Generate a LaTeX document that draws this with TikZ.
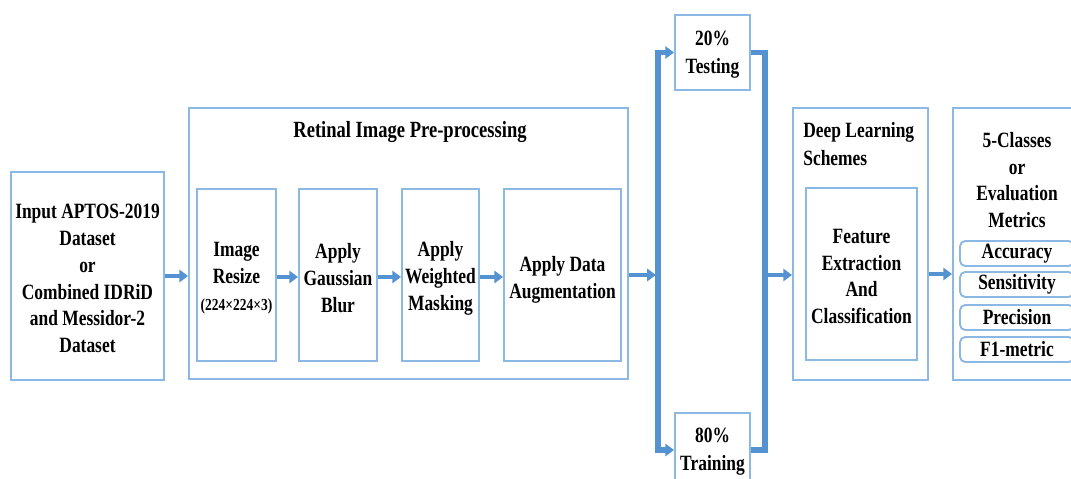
\documentclass[tikz,border=0pt]{standalone}
\usepackage{fontspec}
\setmainfont{Liberation Serif}[FakeStretch=0.8]
\usetikzlibrary{arrows.meta}
\definecolor{boxcol}{RGB}{140,185,228}
\definecolor{arrcol}{RGB}{84,146,210}
\tikzset{
  box/.style={draw=boxcol, line width=1.1pt, inner sep=0pt, align=center,
    font=\fontsize{12.4}{15.3}\selectfont\bfseries},
  mbox/.style={box, rounded corners=3pt, minimum width=2.28cm, minimum height=0.5cm},
  lbl/.style={inner sep=0pt, align=center, font=\fontsize{12.4}{15.3}\selectfont\bfseries},
  arr/.style={draw=arrcol, line width=2.4pt, -{Triangle[length=5pt,width=7pt]}},
  bar/.style={draw=arrcol, line width=2.9pt, line join=miter},
  bararr/.style={bar, -{Triangle[length=5pt,width=7pt]}}
}
\begin{document}
\begin{tikzpicture}[x=0.02cm, y=-0.02cm]
\clip (0,0) rectangle (1071,479);
\useasboundingbox (0,0) rectangle (1071,479);
% input
\node[box, minimum width=3.06cm, minimum height=4.16cm] (inp) at (87.5,276) {};
\node[lbl] (inpt) at (87.5,278.5) {Input APTOS-2019\\Dataset\\or\\Combined IDRiD\\and Messidor-2\\Dataset};
% preprocessing
\node[box, minimum width=8.78cm, minimum height=5.42cm] (pre) at (408.5,243.5) {};
\node[lbl, font=\fontsize{13.2}{15}\selectfont\bfseries] (pret) at (410,132) {Retinal Image Pre-processing};
\node[box, minimum width=1.58cm, minimum height=3.44cm] (rs) at (236.5,275) {};
\node[lbl] (rst) at (236.5,278) {Image\\Resize\\{\fontsize{9.6}{13}\selectfont(224×224×3)}};
\node[box, minimum width=1.56cm, minimum height=3.44cm] (gb) at (338,275) {};
\node[lbl] (gbt) at (338,278) {Apply\\Gaussian\\Blur};
\node[box, minimum width=1.54cm, minimum height=3.44cm] (wm) at (440.5,275) {};
\node[lbl] (wmt) at (440.5,278) {Apply\\Weighted\\Masking};
\node[box, minimum width=2.34cm, minimum height=3.44cm] (da) at (562.5,275) {};
\node[lbl] (dat) at (562.5,280) {Apply Data\\Augmentation};
% split
\node[box, minimum width=1.5cm, minimum height=1.5cm] (test) at (712.5,52.5) {};
\node[lbl, font=\fontsize{12.4}{16}\selectfont\bfseries] (testt) at (712.5,55) {20\%\\Testing};
\node[box, minimum width=1.5cm, minimum height=1.48cm] (train) at (712.5,450) {};
\node[lbl, font=\fontsize{12.4}{16}\selectfont\bfseries] (traint) at (712.5,452) {80\%\\Training};
\coordinate (sl) at (658,275);
\coordinate (sr) at (765,275);
% deep learning
\node[box, minimum width=2.7cm, minimum height=5.44cm] (dl) at (860.5,244) {};
\node[lbl, align=left, anchor=north west, font=\fontsize{12.4}{16}\selectfont\bfseries] (dlt) at (803,122) {Deep Learning\\Schemes};
\node[box, minimum width=2.22cm, minimum height=3.44cm] (fe) at (861.5,274) {};
\node[lbl] (fet) at (861.5,276.5) {Feature\\Extraction\\And\\Classification};
% evaluation
\node[box, minimum width=2.56cm, minimum height=5.44cm] (ev) at (1017,244) {};
\node[lbl] (evt) at (1017,180) {5-Classes\\or\\Evaluation\\Metrics};
\node[mbox] (m1) at (1017,253.5) {Accuracy};
\node[mbox] (m2) at (1017,284.5) {Sensitivity};
\node[mbox] (m3) at (1017,317.5) {Precision};
\node[mbox] (m4) at (1017,349.5) {F1-metric};
% connectors
\draw[arr] (inp.east) -- (pre.west |- inp.east);
\draw[arr] (rs.east |- 0,277) -- (gb.west |- 0,277);
\draw[arr] (gb.east |- 0,277) -- (wm.west |- 0,277);
\draw[arr] (wm.east |- 0,277) -- (da.west |- 0,277);
\draw[arr] (pre.east |- sl) -- ([xshift=-1.2pt]sl);
\draw[bararr] (sl) |- (test.west);
\draw[bararr] (sl) |- (train.west);
\draw[bar] (test.east) -| (sr);
\draw[bar] (train.east) -| (sr);
\draw[arr] (sr) -- (dl.west |- sr);
\draw[arr] (dl.east |- fe) -- (ev.west |- fe);
\end{tikzpicture}
\end{document}
